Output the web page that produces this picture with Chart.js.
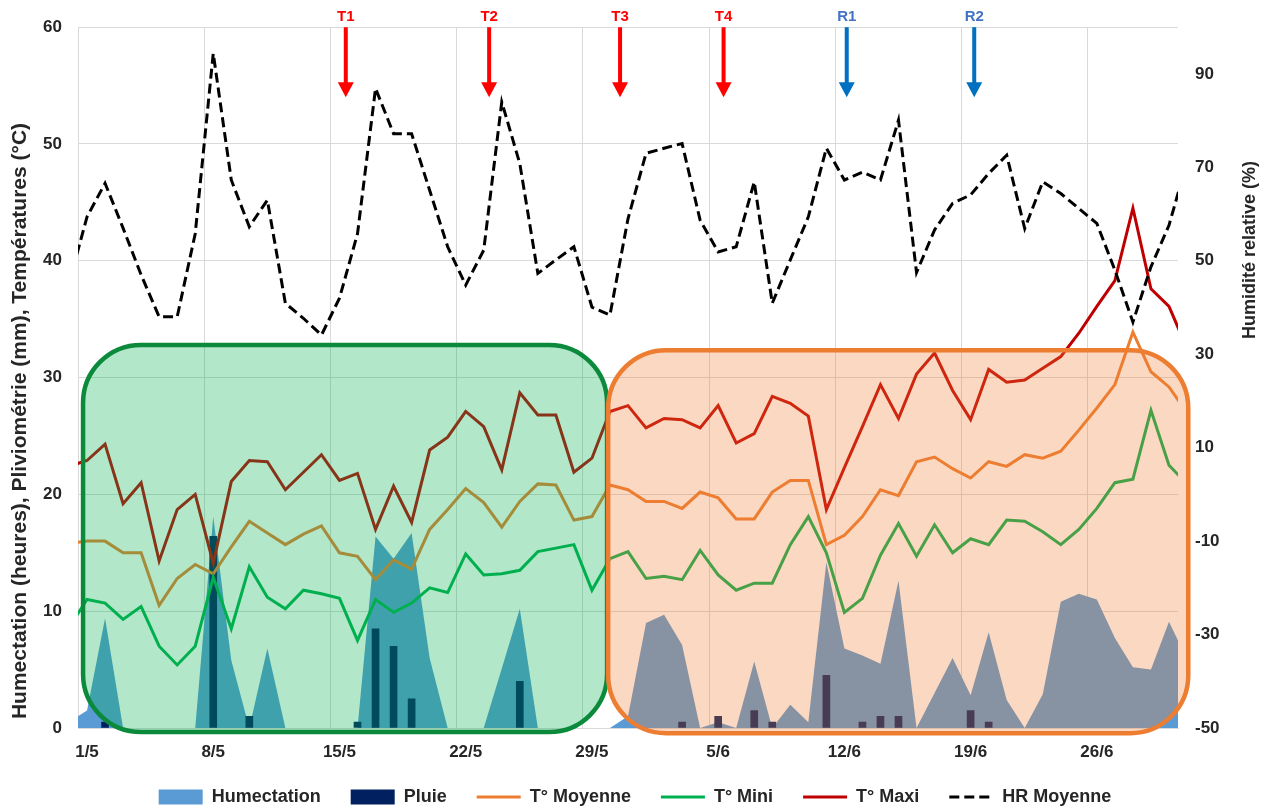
<!DOCTYPE html>
<html lang="fr">
<head>
<meta charset="utf-8">
<title>Humectation, pluie, températures et HR</title>
<script src="https://cdn.jsdelivr.net/npm/chart.js@4.4.1/dist/chart.umd.min.js"></script>
<style>
  html, body { margin: 0; padding: 0; background: #fff; }
</style>
</head>
<body>
<canvas id="chart" width="1270" height="808"></canvas>
<script>
"use strict";
// one value per day; the first is 30/4 and the last 1/7, both fall just outside the axis
var firstDay = -1;
var tickLabels = ['1/5', '8/5', '15/5', '22/5', '29/5', '5/6', '12/6', '19/6', '26/6'];

var humectation = [0.5, 1.5, 9.4, 0, 0, 0, 0, 0, 18.1, 5.8,
    0, 6.8, 0, 0, 0, 0, 0, 16.4, 14.5, 16.7,
    6.0, 0, 0, 0, 5.1, 10.2, 0, 0, 0, 0,
    0, 1.0, 9.0, 9.7, 7.1, 0, 0.5, 0, 5.7, 0,
    2.0, 0.5, 14.2, 6.8, 6.2, 5.5, 12.6, 0, 3.0, 6.0,
    2.8, 8.2, 2.4, 0, 2.9, 10.8, 11.5, 11.0, 7.7, 5.2,
    5.0, 9.1, 5.9];
var tMoyenne = [15.8, 16.0, 16.0, 15.0, 15.0, 10.5, 12.8, 14.0, 13.2, 15.5,
    17.7, 16.7, 15.7, 16.6, 17.3, 15.0, 14.7, 12.7, 14.4, 13.6,
    17.0, 18.7, 20.5, 19.3, 17.2, 19.4, 20.9, 20.8, 17.8, 18.1,
    20.8, 20.4, 19.4, 19.4, 18.8, 20.2, 19.7, 17.9, 17.9, 20.2,
    21.2, 21.2, 15.7, 16.5, 18.1, 20.4, 19.9, 22.8, 23.2, 22.2,
    21.4, 22.8, 22.4, 23.4, 23.1, 23.7, 25.5, 27.4, 29.4, 33.9,
    30.5, 29.2, 27.0];
var tMini = [8.6, 11.0, 10.7, 9.3, 10.4, 7.0, 5.4, 7.0, 12.9, 8.5,
    13.8, 11.2, 10.2, 11.8, 11.5, 11.1, 7.5, 11.0, 9.9, 10.7,
    12.0, 11.6, 14.9, 13.1, 13.2, 13.5, 15.1, 15.4, 15.7, 11.8,
    14.5, 15.1, 12.8, 13.0, 12.7, 15.2, 13.1, 11.8, 12.4, 12.4,
    15.7, 18.1, 15.0, 9.9, 11.1, 14.8, 17.5, 14.7, 17.4, 15.0,
    16.2, 15.7, 17.8, 17.7, 16.8, 15.7, 17.0, 18.8, 21.0, 21.3,
    27.2, 22.5, 20.9];
var tMaxi = [22.4, 22.9, 24.3, 19.2, 21.0, 14.3, 18.7, 20.0, 14.1, 21.1,
    22.9, 22.8, 20.4, 21.9, 23.4, 21.2, 21.8, 17.0, 20.7, 17.6,
    23.8, 24.9, 27.1, 25.8, 22.1, 28.7, 26.8, 26.8, 21.9, 23.1,
    27.1, 27.6, 25.7, 26.5, 26.4, 25.7, 27.6, 24.4, 25.2, 28.4,
    27.8, 26.7, 18.7, 22.3, 25.8, 29.4, 26.5, 30.3, 32.1, 28.9,
    26.4, 30.7, 29.6, 29.8, 30.8, 31.8, 33.8, 36.1, 38.3, 44.5,
    37.6, 36.1, 32.5];
var hrMoyenne = [45.2, 59.4, 66.6, 57.0, 47.0, 38.0, 38.0, 55.8, 94.4, 67.3,
    57.3, 63.0, 40.9, 37.7, 34.1, 42.0, 55.8, 86.9, 77.2, 77.2,
    65.1, 53.0, 44.8, 52.3, 84.0, 70.8, 47.3, 50.2, 53.0, 40.1,
    38.4, 59.0, 73.0, 74.1, 75.1, 58.7, 51.9, 53.0, 66.9, 40.9,
    50.2, 59.4, 74.1, 67.3, 69.0, 67.3, 80.1, 47.5, 56.6, 62.3,
    64.1, 68.7, 72.6, 56.9, 66.9, 64.4, 61.2, 58.0, 48.0, 36.9,
    48.7, 57.6, 71.2];
// rain from 1/5 to 30/6
var pluie = [0, 0.5, 0, 0, 0, 0, 0, 16.4, 0, 1.0,
    0, 0, 0, 0, 0, 0.5, 8.5, 7.0, 2.5, 0,
    0, 0, 0, 0, 4.0, 0, 0, 0, 0, 0,
    0, 0, 0, 0.5, 0, 1.0, 0, 1.5, 0.5, 0,
    0, 4.5, 0, 0.5, 1.0, 1.0, 0, 0, 0, 1.5,
    0.5, 0, 0, 0, 0, 0, 0, 0, 0, 0,
    0];

// treatments (T) and readings (R) marked on top of the chart, in days from 1/5
var markLabels = ['T1', 'T2', 'T3', 'T4', 'R1', 'R2'];
var markDays = [14.35, 22.3, 29.56, 35.3, 42.13, 49.2];

var FONT = "'Liberation Sans', Arial, sans-serif";
var TEXT = '#262626';

function toPoints(values, start) {
    return values.map((v, k) => ({x: start + k, y: v}));
}

// the two periods highlighted with rounded boxes
var periodBoxes = [
    {from: -0.22, to: 28.84, top: 32.8, bottom: -0.35, fill: 'rgba(0, 176, 80, 0.3)', stroke: '#0b8a3c'},
    {from: 28.9, to: 61.07, top: 32.35, bottom: -0.45, fill: 'rgba(237, 125, 49, 0.3)', stroke: '#ed7d31'}
];

function roundRect(ctx, x, y, w, h, r) {
    ctx.beginPath();
    ctx.moveTo(x + r, y);
    ctx.arcTo(x + w, y, x + w, y + h, r);
    ctx.arcTo(x + w, y + h, x, y + h, r);
    ctx.arcTo(x, y + h, x, y, r);
    ctx.arcTo(x, y, x + w, y, r);
    ctx.closePath();
}

var decorations = {
    id: 'decorations',
    beforeInit: (chart) => {
        var fit = chart.legend.fit;
        chart.legend.fit = function() {
            fit.call(this);
            this.height = 50;
        };
    },
    afterDatasetsDraw: (chart) => {
        var ctx = chart.ctx, xs = chart.scales.x, ys = chart.scales.y;
        ctx.save();
        periodBoxes.forEach((b) => {
            var x0 = xs.getPixelForValue(b.from), x1 = xs.getPixelForValue(b.to);
            var y0 = ys.getPixelForValue(b.top), y1 = ys.getPixelForValue(b.bottom);
            roundRect(ctx, x0, y0, x1 - x0, y1 - y0, 58);
            ctx.fillStyle = b.fill;
            ctx.fill();
            ctx.lineWidth = 4.5;
            ctx.strokeStyle = b.stroke;
            ctx.stroke();
        });
        ctx.restore();
    },
    afterDraw: (chart) => {
        var ctx = chart.ctx, xs = chart.scales.x, ys = chart.scales.y;
        var top = chart.chartArea.top, tip = ys.getPixelForValue(54);
        ctx.save();
        markLabels.forEach((label, k) => {
            var x = xs.getPixelForValue(markDays[k]);
            var isT = label[0] === 'T';
            ctx.fillStyle = isT ? '#ff0000' : '#0070c0';
            ctx.fillRect(x - 2, top, 4, tip - top - 14);
            ctx.beginPath();
            ctx.moveTo(x - 8, tip - 15);
            ctx.lineTo(x + 8, tip - 15);
            ctx.lineTo(x, tip);
            ctx.closePath();
            ctx.fill();
            ctx.font = 'bold 15px ' + FONT;
            ctx.textAlign = 'center';
            ctx.textBaseline = 'middle';
            ctx.fillStyle = isT ? '#ff0000' : '#4472c4';
            ctx.fillText(label, x, top - 10);
        });
        // axis titles, both read from bottom to top
        ctx.fillStyle = TEXT;
        ctx.textAlign = 'center';
        ctx.textBaseline = 'middle';
        ctx.font = 'bold 21px ' + FONT;
        ctx.translate(20, 421);
        ctx.rotate(-Math.PI / 2);
        ctx.fillText('Humectation (heures), Pliviométrie (mm), Températures (°C)', 0, 0);
        ctx.rotate(Math.PI / 2);
        ctx.font = 'bold 18px ' + FONT;
        ctx.translate(1230, -171);
        ctx.rotate(-Math.PI / 2);
        ctx.fillText('Humidité relative (%)', 0, 0);
        ctx.restore();
    }
};

var tickFont = {family: FONT, size: 17, weight: 'bold'};

var chart = new Chart(document.getElementById('chart'), {
    type: 'line',
    data: {
        datasets: [{
            label: 'Humectation',
            data: toPoints(humectation, firstDay),
            yAxisID: 'y',
            fill: 'origin',
            backgroundColor: '#5b9bd5',
            borderColor: '#5b9bd5',
            borderWidth: 0,
            pointRadius: 0,
            order: 6
        }, {
            type: 'bar',
            label: 'Pluie',
            data: toPoints(pluie, 0).filter((p) => p.y > 0),
            yAxisID: 'y',
            backgroundColor: '#002060',
            barThickness: 7,
            order: 5
        }, {
            label: 'T° Moyenne',
            data: toPoints(tMoyenne, firstDay),
            yAxisID: 'y',
            borderColor: '#ed7d31',
            borderWidth: 3,
            pointRadius: 0,
            order: 3
        }, {
            label: 'T° Mini',
            data: toPoints(tMini, firstDay),
            yAxisID: 'y',
            borderColor: '#00b050',
            borderWidth: 3,
            pointRadius: 0,
            order: 2
        }, {
            label: 'T° Maxi',
            data: toPoints(tMaxi, firstDay),
            yAxisID: 'y',
            borderColor: '#c00000',
            borderWidth: 3,
            pointRadius: 0,
            order: 1
        }, {
            label: 'HR Moyenne',
            data: toPoints(hrMoyenne, firstDay),
            yAxisID: 'y2',
            borderColor: '#000000',
            borderWidth: 3,
            borderDash: [10, 5],
            pointRadius: 0,
            order: 0
        }]
    },
    options: {
        responsive: false,
        animation: false,
        layout: {padding: {top: 27, left: 0, right: 0, bottom: 0}},
        plugins: {
            tooltip: {enabled: false},
            legend: {
                position: 'bottom',
                labels: {
                    usePointStyle: true,
                    pointStyleWidth: 44,
                    boxHeight: 15,
                    padding: 30,
                    color: TEXT,
                    font: {family: FONT, size: 18, weight: 'bold'},
                    sort: (a, b) => a.datasetIndex - b.datasetIndex,
                    generateLabels: (chart) => {
                        return Chart.defaults.plugins.legend.labels.generateLabels(chart).map((item) => {
                            var ds = chart.data.datasets[item.datasetIndex];
                            if (ds.type === 'bar' || ds.fill) {
                                item.pointStyle = 'rect';
                                item.fillStyle = ds.backgroundColor;
                                item.lineWidth = 0;
                            } else {
                                item.pointStyle = 'line';
                                item.strokeStyle = ds.borderColor;
                                item.lineWidth = 3;
                                item.lineDash = ds.borderDash || [];
                            }
                            return item;
                        });
                    }
                }
            }
        },
        scales: {
            x: {
                type: 'linear',
                min: -0.5,
                max: 60.5,
                offset: false,
                afterBuildTicks: (axis) => {
                    axis.ticks = tickLabels.map((_, k) => ({value: -0.5 + 7 * k}));
                },
                afterFit: (scale) => { scale.height = 30; },
                ticks: {
                    callback: (value, index) => tickLabels[index],
                    labelOffset: 9,
                    maxRotation: 0,
                    autoSkip: false,
                    padding: 14,
                    color: TEXT,
                    font: tickFont
                },
                grid: {color: '#d9d9d9', drawTicks: false, offset: false},
                border: {color: '#d9d9d9'}
            },
            y: {
                position: 'left',
                min: 0,
                max: 60,
                afterFit: (scale) => { scale.width = 78; },
                ticks: {stepSize: 10, padding: 16, color: TEXT, font: tickFont},
                grid: {color: '#d9d9d9', drawTicks: false},
                border: {display: false}
            },
            y2: {
                position: 'right',
                min: -50,
                max: 100,
                afterBuildTicks: (axis) => {
                    axis.ticks = [-50, -30, -10, 10, 30, 50, 70, 90].map((v) => ({value: v}));
                },
                afterFit: (scale) => { scale.width = 92; },
                ticks: {padding: 17, color: TEXT, font: tickFont},
                grid: {drawOnChartArea: false, drawTicks: false},
                border: {display: false}
            }
        }
    },
    plugins: [decorations]
});
</script>
</body>
</html>
